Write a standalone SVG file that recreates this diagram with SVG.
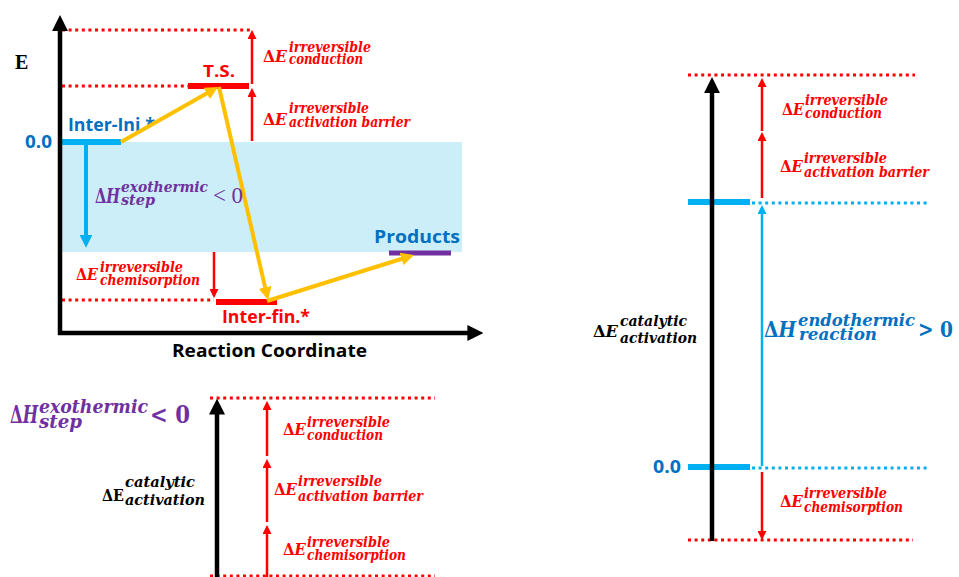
<svg xmlns="http://www.w3.org/2000/svg" width="959" height="577" viewBox="0 0 959 577">
<defs>
<style>
.dotR{stroke:#FF0000;stroke-width:3;stroke-dasharray:3 3.6;fill:none}
.dotB{stroke:#00B0F0;stroke-width:3;stroke-dasharray:3 3.6;fill:none}
.ax{stroke:#000;stroke-width:4.5;fill:none}
.ra{stroke:#FF0000;stroke-width:2.5;fill:none}
.ba{stroke:#00B0F0;stroke-width:4;fill:none}
.ba2{stroke:#00B0F0;stroke-width:2.5;fill:none}
.oa{stroke:#FFC000;stroke-width:4;fill:none}
.lbl{font-family:"Open Sans","Liberation Sans",sans-serif;font-weight:700}
.m{font-family:"DejaVu Serif","Liberation Serif",serif;font-weight:700}
.it{font-style:italic}
.red{fill:#FF0000}
.pur{fill:#7030A0}
.dblue{fill:#0070C0}
.blk{fill:#000}
</style>
<marker id="mBlk" viewBox="0 0 10 10" refX="1" refY="5" markerWidth="16" markerHeight="16" markerUnits="userSpaceOnUse" orient="auto"><path d="M0,0 L10,5 L0,10 z" fill="#000"/></marker>
<marker id="mRed" viewBox="0 0 10 10" refX="1" refY="5" markerWidth="9" markerHeight="9" markerUnits="userSpaceOnUse" orient="auto"><path d="M0,0 L10,5 L0,10 z" fill="#FF0000"/></marker>
<marker id="mBlue" viewBox="0 0 10 10" refX="1" refY="5" markerWidth="13" markerHeight="13" markerUnits="userSpaceOnUse" orient="auto"><path d="M0,0 L10,5 L0,10 z" fill="#00B0F0"/></marker>
<marker id="mBlueS" viewBox="0 0 10 10" refX="1" refY="5" markerWidth="9" markerHeight="9" markerUnits="userSpaceOnUse" orient="auto"><path d="M0,0 L10,5 L0,10 z" fill="#00B0F0"/></marker>
<marker id="mOr" viewBox="0 0 10 10" refX="1" refY="5" markerWidth="13" markerHeight="13" markerUnits="userSpaceOnUse" orient="auto"><path d="M0,0 L10,5 L0,10 z" fill="#FFC000"/></marker>
</defs>

<rect id="exo-band" x="62" y="142" width="400" height="110" fill="#CCEEF9"/>

<g id="guides">
<line class="dotR" x1="62" y1="30" x2="250" y2="30"/>
<line class="dotR" x1="62" y1="86" x2="188" y2="86"/>
<line class="dotR" x1="62" y1="300" x2="214" y2="300"/>
<line class="dotR" x1="210" y1="398" x2="435" y2="398"/>
<line class="dotR" x1="210" y1="576" x2="435" y2="576"/>
<line class="dotR" x1="688" y1="75" x2="915" y2="75"/>
<line class="dotB" x1="752" y1="203" x2="930" y2="203"/>
<line class="dotB" x1="752" y1="468" x2="930" y2="468"/>
<line class="dotR" x1="688" y1="540" x2="913" y2="540"/>
</g>

<g id="node-inter-ini">
<line x1="62" y1="142" x2="121" y2="142" stroke="#00B0F0" stroke-width="6"/>
<text class="lbl dblue" x="68" y="131" font-size="17" textLength="87" lengthAdjust="spacingAndGlyphs">Inter-Ini.*</text>
<text class="lbl dblue" x="25" y="148" font-size="17" textLength="27" lengthAdjust="spacingAndGlyphs">0.0</text>
</g>
<g id="node-ts">
<line x1="188" y1="86" x2="249" y2="86" stroke="#FF0000" stroke-width="6"/>
<text class="lbl red" x="203" y="77" font-size="16" textLength="32" lengthAdjust="spacingAndGlyphs">T.S.</text>
</g>
<g id="node-inter-fin">
<line x1="216" y1="302" x2="277" y2="302" stroke="#FF0000" stroke-width="6"/>
<text class="lbl red" x="222" y="323" font-size="17" textLength="88" lengthAdjust="spacingAndGlyphs">Inter-fin.*</text>
</g>
<g id="node-products">
<line x1="389" y1="253" x2="451" y2="253" stroke="#7030A0" stroke-width="5"/>
<text class="lbl dblue" x="374" y="243" font-size="17" textLength="86" lengthAdjust="spacingAndGlyphs">Products</text>
</g>
<g id="node-right-top">
<line x1="688" y1="202" x2="750" y2="202" stroke="#00B0F0" stroke-width="6"/>
</g>
<g id="node-right-zero">
<line x1="688" y1="467" x2="750" y2="467" stroke="#00B0F0" stroke-width="6"/>
<text class="lbl dblue" x="653" y="473" font-size="17" textLength="28" lengthAdjust="spacingAndGlyphs">0.0</text>
</g>

<g id="connectors">
<line class="ax" x1="60" y1="335" x2="60" y2="29.5" marker-end="url(#mBlk)"/>
<line class="ax" x1="58" y1="333" x2="469" y2="333" marker-end="url(#mBlk)"/>
<line class="ra" x1="252" y1="84" x2="252" y2="38" marker-end="url(#mRed)"/>
<line class="ra" x1="252" y1="141" x2="252" y2="96" marker-end="url(#mRed)"/>
<line class="ra" x1="214" y1="252" x2="214" y2="290" marker-end="url(#mRed)"/>
<line class="ba" x1="86" y1="144" x2="86" y2="236" marker-end="url(#mBlue)"/>
<line class="oa" x1="121" y1="142" x2="207.8" y2="92.8" marker-end="url(#mOr)"/>
<line class="oa" x1="219" y1="87" x2="265.4" y2="288.6" marker-end="url(#mOr)"/>
<line class="oa" x1="267" y1="301" x2="402.8" y2="258.5" marker-end="url(#mOr)"/>
<line class="ax" x1="217" y1="577" x2="217" y2="413" marker-end="url(#mBlk)"/>
<line class="ra" x1="267" y1="456" x2="267" y2="409" marker-end="url(#mRed)"/>
<line class="ra" x1="267" y1="522" x2="267" y2="467" marker-end="url(#mRed)"/>
<line class="ra" x1="267" y1="577" x2="267" y2="533" marker-end="url(#mRed)"/>
<line class="ax" x1="712" y1="541" x2="712" y2="91.5" marker-end="url(#mBlk)"/>
<line class="ra" x1="762" y1="131" x2="762" y2="86" marker-end="url(#mRed)"/>
<line class="ra" x1="762" y1="198" x2="762" y2="140" marker-end="url(#mRed)"/>
<line class="ba2" x1="762" y1="466" x2="762" y2="213" marker-end="url(#mBlueS)"/>
<line class="ra" x1="762" y1="472" x2="762" y2="532" marker-end="url(#mRed)"/>
</g>

<text id="axis-e" x="15" y="69" font-family="Liberation Serif,serif" font-weight="700" font-size="20" fill="#000">E</text>
<text id="axis-rc" class="lbl" x="172" y="357" font-size="17" fill="#000" textLength="195" lengthAdjust="spacingAndGlyphs">Reaction Coordinate</text>

<g id="lbl-tl-conduction" class="m red">
<text x="263" y="62" font-size="17" textLength="24" lengthAdjust="spacingAndGlyphs">Δ<tspan class="it">E</tspan></text>
<text class="it" x="289" y="52" font-size="14" textLength="82" lengthAdjust="spacingAndGlyphs">irreversible</text>
<text class="it" x="289" y="64" font-size="14" textLength="74" lengthAdjust="spacingAndGlyphs">conduction</text>
</g>
<g id="lbl-tl-barrier" class="m red">
<text x="263" y="125" font-size="17" textLength="24" lengthAdjust="spacingAndGlyphs">Δ<tspan class="it">E</tspan></text>
<text class="it" x="289" y="113" font-size="14" textLength="80" lengthAdjust="spacingAndGlyphs">irreversible</text>
<text class="it" x="289" y="127" font-size="14" textLength="121" lengthAdjust="spacingAndGlyphs">activation barrier</text>
</g>
<g id="lbl-tl-chemi" class="m red">
<text x="76" y="280" font-size="17" textLength="22" lengthAdjust="spacingAndGlyphs">Δ<tspan class="it">E</tspan></text>
<text class="it" x="100" y="272" font-size="14" textLength="83" lengthAdjust="spacingAndGlyphs">irreversible</text>
<text class="it" x="100" y="285" font-size="14" textLength="100" lengthAdjust="spacingAndGlyphs">chemisorption</text>
</g>
<g id="lbl-tl-exo" class="m pur">
<text x="95" y="203" font-size="21" textLength="25" lengthAdjust="spacingAndGlyphs">Δ<tspan class="it">H</tspan></text>
<text class="it" x="121" y="192" font-size="15" textLength="87" lengthAdjust="spacingAndGlyphs">exothermic</text>
<text class="it" x="121" y="205" font-size="15" textLength="34" lengthAdjust="spacingAndGlyphs">step</text>
<text x="213" y="203" font-size="23" font-weight="400" font-family="Liberation Serif,serif" textLength="30" lengthAdjust="spacingAndGlyphs">&lt; 0</text>
</g>

<g id="lbl-bl-exo" class="m pur">
<text x="10" y="423" font-size="25" textLength="28" lengthAdjust="spacingAndGlyphs">Δ<tspan class="it">H</tspan></text>
<text class="it" x="39" y="413" font-size="18" textLength="109" lengthAdjust="spacingAndGlyphs">exothermic</text>
<text class="it" x="39" y="428" font-size="18" textLength="43" lengthAdjust="spacingAndGlyphs">step</text>
<text x="150" y="423" font-size="25" textLength="40" lengthAdjust="spacingAndGlyphs">&lt; 0</text>
</g>
<g id="lbl-bl-cat" class="m blk">
<text x="102" y="501" font-size="17" textLength="22" lengthAdjust="spacingAndGlyphs">ΔE</text>
<text class="it" x="125" y="487" font-size="15" textLength="70" lengthAdjust="spacingAndGlyphs">catalytic</text>
<text class="it" x="125" y="505" font-size="15" textLength="80" lengthAdjust="spacingAndGlyphs">activation</text>
</g>
<g id="lbl-bl-conduction" class="m red">
<text x="283" y="435" font-size="17" textLength="23" lengthAdjust="spacingAndGlyphs">Δ<tspan class="it">E</tspan></text>
<text class="it" x="307" y="427" font-size="14" textLength="83" lengthAdjust="spacingAndGlyphs">irreversible</text>
<text class="it" x="307" y="440" font-size="14" textLength="76" lengthAdjust="spacingAndGlyphs">conduction</text>
</g>
<g id="lbl-bl-barrier" class="m red">
<text x="274" y="495" font-size="17" textLength="23" lengthAdjust="spacingAndGlyphs">Δ<tspan class="it">E</tspan></text>
<text class="it" x="298" y="486" font-size="14" textLength="84" lengthAdjust="spacingAndGlyphs">irreversible</text>
<text class="it" x="298" y="501" font-size="14" textLength="125" lengthAdjust="spacingAndGlyphs">activation barrier</text>
</g>
<g id="lbl-bl-chemi" class="m red">
<text x="283" y="555" font-size="17" textLength="23" lengthAdjust="spacingAndGlyphs">Δ<tspan class="it">E</tspan></text>
<text class="it" x="307" y="547" font-size="14" textLength="83" lengthAdjust="spacingAndGlyphs">irreversible</text>
<text class="it" x="307" y="560" font-size="14" textLength="99" lengthAdjust="spacingAndGlyphs">chemisorption</text>
</g>

<g id="lbl-r-conduction" class="m red">
<text x="782" y="115" font-size="17" textLength="22" lengthAdjust="spacingAndGlyphs">Δ<tspan class="it">E</tspan></text>
<text class="it" x="805" y="105" font-size="14" textLength="83" lengthAdjust="spacingAndGlyphs">irreversible</text>
<text class="it" x="805" y="118" font-size="14" textLength="77" lengthAdjust="spacingAndGlyphs">conduction</text>
</g>
<g id="lbl-r-barrier" class="m red">
<text x="780" y="172" font-size="17" textLength="23" lengthAdjust="spacingAndGlyphs">Δ<tspan class="it">E</tspan></text>
<text class="it" x="804" y="163" font-size="14" textLength="83" lengthAdjust="spacingAndGlyphs">irreversible</text>
<text class="it" x="804" y="177" font-size="14" textLength="125" lengthAdjust="spacingAndGlyphs">activation barrier</text>
</g>
<g id="lbl-r-chemi" class="m red">
<text x="780" y="507" font-size="17" textLength="23" lengthAdjust="spacingAndGlyphs">Δ<tspan class="it">E</tspan></text>
<text class="it" x="804" y="498" font-size="14" textLength="83" lengthAdjust="spacingAndGlyphs">irreversible</text>
<text class="it" x="804" y="512" font-size="14" textLength="99" lengthAdjust="spacingAndGlyphs">chemisorption</text>
</g>
<g id="lbl-r-cat" class="m blk">
<text x="593" y="337" font-size="17" textLength="25" lengthAdjust="spacingAndGlyphs">Δ<tspan class="it">E</tspan></text>
<text class="it" x="620" y="326" font-size="15" textLength="67" lengthAdjust="spacingAndGlyphs">catalytic</text>
<text class="it" x="620" y="343" font-size="15" textLength="77" lengthAdjust="spacingAndGlyphs">activation</text>
</g>
<g id="lbl-r-endo" class="m dblue">
<text x="764" y="337" font-size="23" textLength="32" lengthAdjust="spacingAndGlyphs">Δ<tspan class="it">H</tspan></text>
<text class="it" x="798" y="326" font-size="16" textLength="117" lengthAdjust="spacingAndGlyphs">endothermic</text>
<text class="it" x="799" y="340" font-size="16" textLength="78" lengthAdjust="spacingAndGlyphs">reaction</text>
<text x="918" y="337" font-size="23" textLength="35" lengthAdjust="spacingAndGlyphs">&gt; 0</text>
</g>
</svg>
